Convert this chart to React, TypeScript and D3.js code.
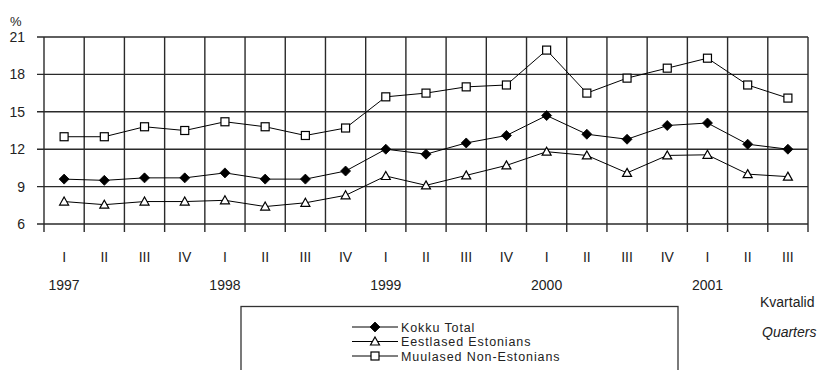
import React from "react";
import * as d3 from "d3";

const quarters = ["I","II","III","IV","I","II","III","IV","I","II","III","IV","I","II","III","IV","I","II","III"];
const years = ["1997","1998","1999","2000","2001"];
const yearIdx = [0, 4, 8, 12, 16];
const yTicks = [6, 9, 12, 15, 18, 21];
const kokku = [9.6, 9.5, 9.7, 9.7, 10.1, 9.6, 9.6, 10.25, 12.0, 11.6, 12.5, 13.1, 14.7, 13.2, 12.8, 13.9, 14.1, 12.4, 12.0];
const eestlased = [7.8, 7.55, 7.8, 7.8, 7.9, 7.4, 7.7, 8.3, 9.85, 9.1, 9.9, 10.7, 11.8, 11.5, 10.1, 11.5, 11.55, 10.0, 9.8];
const muulased = [13.0, 13.0, 13.8, 13.5, 14.2, 13.8, 13.1, 13.7, 16.2, 16.5, 17.0, 17.15, 19.95, 16.5, 17.7, 18.5, 19.3, 17.15, 16.1];
const seriesNames = ["Kokku Total", "Eestlased Estonians", "Muulased Non-Estonians"];

const W = 823, H = 370;
const L = 44, R = 808, T = 37, B = 224;
const font = "'Liberation Sans', Arial, sans-serif";

function Marker({ type, x, y }: { type: string; x: number; y: number }) {
  if (type === "diamond") {
    const s = 5;
    return <path d={`M${x},${y - s}L${x + s},${y}L${x},${y + s}L${x - s},${y}Z`} fill="#000" stroke="#000" strokeWidth={0.8} />;
  }
  if (type === "triangle") {
    const s = 4.5;
    return <path d={`M${x},${y - s}L${x + s},${y + s - 1}L${x - s},${y + s - 1}Z`} fill="#fff" stroke="#000" strokeWidth={1.2} />;
  }
  return <rect x={x - 4} y={y - 4} width={8} height={8} fill="#fff" stroke="#000" strokeWidth={1.2} />;
}

export default function App() {
  const x = d3.scaleBand<number>().domain(d3.range(quarters.length)).range([L, R]);
  const y = d3.scaleLinear().domain([6, 21]).range([B, T]);
  const cx = (i: number) => (x(i) as number) + x.bandwidth() / 2;
  const line = d3.line<number>().x((_, i) => cx(i)).y((d) => y(d));
  const series = [
    { vals: muulased, type: "square" },
    { vals: kokku, type: "diamond" },
    { vals: eestlased, type: "triangle" },
  ];
  const edges = d3.range(quarters.length + 1).map((i) => L + i * x.bandwidth());
  const legendRows = [
    { name: seriesNames[0], type: "diamond" },
    { name: seriesNames[1], type: "triangle" },
    { name: seriesNames[2], type: "square" },
  ];
  return (
    <svg width={W} height={H} style={{ position: "absolute", left: 0, top: 0, background: "#fff" }} fontFamily={font}>
      <rect width={W} height={H} fill="#fff" />
      <text x={10} y={26} fontSize={13} fill="#222">%</text>
      {yTicks.map((t) => (
        <g key={t}>
          <line x1={37} x2={R} y1={y(t)} y2={y(t)} stroke="#2a2a2a" strokeWidth={1.4} />
          <text x={25} y={y(t) + 5} textAnchor="end" fontSize={14} fill="#222">{t}</text>
        </g>
      ))}
      {edges.map((e, i) => (
        <line key={i} x1={e} x2={e} y1={T} y2={B + 8} stroke="#2a2a2a" strokeWidth={1.4} />
      ))}
      {series.map((s, si) => (
        <g key={si}>
          <path d={line(s.vals) || ""} fill="none" stroke="#000" strokeWidth={1} />
          {s.vals.map((v, i) => (
            <Marker key={i} type={s.type} x={cx(i)} y={y(v)} />
          ))}
        </g>
      ))}
      {quarters.map((q, i) => (
        <text key={i} x={cx(i)} y={262} textAnchor="middle" fontSize={14} fill="#222">{q}</text>
      ))}
      {years.map((yr, k) => (
        <text key={yr} x={cx(yearIdx[k])} y={290} textAnchor="middle" fontSize={14} fill="#222">{yr}</text>
      ))}
      <text x={760} y={307} fontSize={14} fill="#222">Kvartalid</text>
      <text x={762} y={337} fontSize={14} fontStyle="italic" fill="#222">Quarters</text>
      <rect x={241} y={306.5} width={437} height={80} fill="none" stroke="#333" strokeWidth={1.3} />
      {legendRows.map((r, i) => {
        const ly = 327 + i * 14.5;
        return (
          <g key={r.name}>
            <line x1={352} x2={398} y1={ly} y2={ly} stroke="#000" strokeWidth={1} />
            <Marker type={r.type} x={375} y={ly} />
            <text x={401} y={ly + 4.5} fontSize={12.5} fill="#222" letterSpacing={0.9}>{r.name}</text>
          </g>
        );
      })}
    </svg>
  );
}
